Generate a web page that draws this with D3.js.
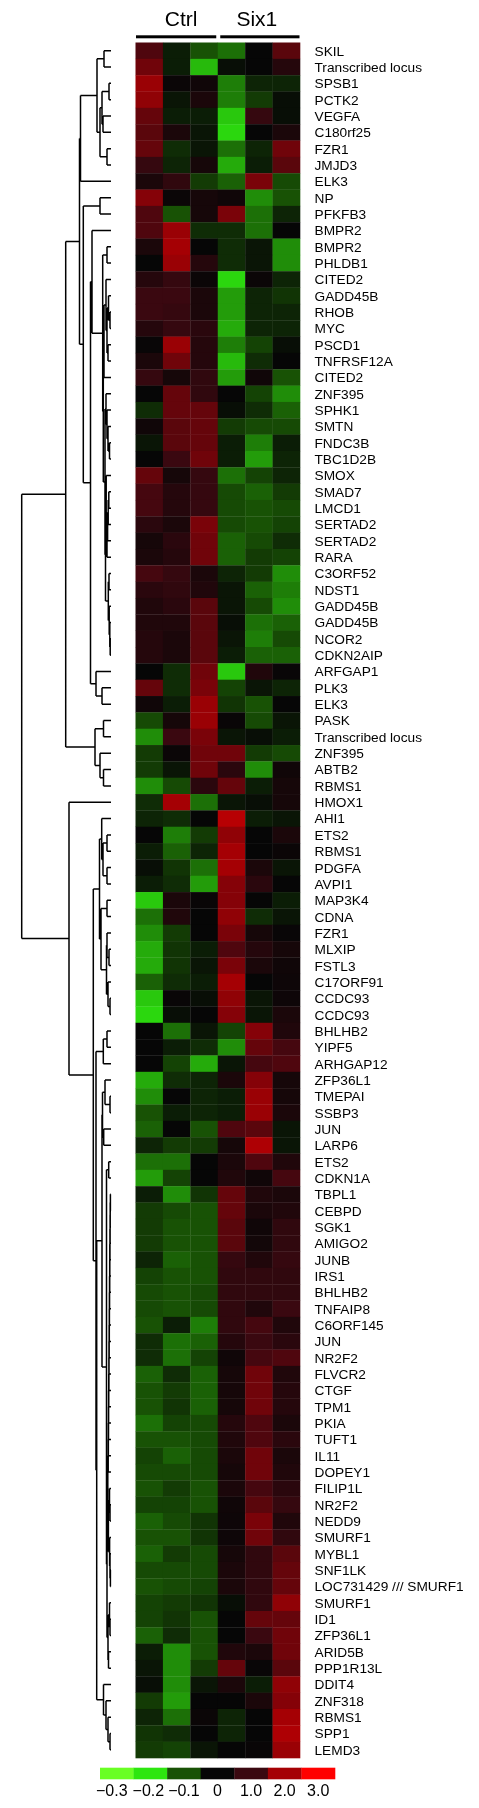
<!DOCTYPE html>
<html>
<head>
<meta charset="utf-8">
<script src="https://cdn.jsdelivr.net/npm/d3@7"></script>
<style>
  html, body { margin: 0; padding: 0; background: #fff; }
  svg { display: block; }
  text { font-family: "Liberation Sans", Arial, sans-serif; fill: #000; }
</style>
</head>
<body>
<div id="vis"></div>
<script>
var genes = ["SKIL","Transcribed locus","SPSB1","PCTK2","VEGFA","C180rf25","FZR1","JMJD3","ELK3","NP",
  "PFKFB3","BMPR2","BMPR2","PHLDB1","CITED2","GADD45B","RHOB","MYC","PSCD1","TNFRSF12A",
  "CITED2","ZNF395","SPHK1","SMTN","FNDC3B","TBC1D2B","SMOX","SMAD7","LMCD1","SERTAD2",
  "SERTAD2","RARA","C3ORF52","NDST1","GADD45B","GADD45B","NCOR2","CDKN2AIP","ARFGAP1","PLK3",
  "ELK3","PASK","Transcribed locus","ZNF395","ABTB2","RBMS1","HMOX1","AHI1","ETS2","RBMS1",
  "PDGFA","AVPI1","MAP3K4","CDNA","FZR1","MLXIP","FSTL3","C17ORF91","CCDC93","CCDC93",
  "BHLHB2","YIPF5","ARHGAP12","ZFP36L1","TMEPAI","SSBP3","JUN","LARP6","ETS2","CDKN1A",
  "TBPL1","CEBPD","SGK1","AMIGO2","JUNB","IRS1","BHLHB2","TNFAIP8","C6ORF145","JUN",
  "NR2F2","FLVCR2","CTGF","TPM1","PKIA","TUFT1","IL11","DOPEY1","FILIP1L","NR2F2",
  "NEDD9","SMURF1","MYBL1","SNF1LK","LOC731429 /// SMURF1","SMURF1","ID1","ZFP36L1","ARID5B","PPP1R13L",
  "DDIT4","ZNF318","RBMS1","SPP1","LEMD3"];

var samples = ["c1","c2","c3","s1","s2","s3"];
var groupNames = ["Ctrl","Six1"];
var groupSamples = [["c1","c3"],["s1","s3"]];

// one row per gene, columns follow samples
var expression = [
  [1.2,-0.03,-0.1,-0.12,0,1.3],
  [1.5,-0.03,-0.17,-0.01,0,0.6],
  [1.9,0.1,0.2,-0.13,-0.04,-0.04],
  [1.8,-0.02,0.4,-0.13,-0.07,-0.01],
  [1.4,-0.03,-0.03,-0.18,0.9,-0.01],
  [1.3,0.4,-0.02,-0.19,0,0.4],
  [1.4,-0.05,-0.02,-0.12,-0.04,1.5],
  [0.9,-0.04,0.3,-0.16,-0.03,1.3],
  [0.4,0.8,-0.07,-0.11,1.6,-0.09],
  [1.7,0.1,0.3,0.2,-0.14,-0.1],
  [1.2,-0.1,0.3,1.6,-0.12,-0.04],
  [1.2,1.9,-0.05,-0.05,-0.12,0],
  [0.4,2,0,-0.05,-0.02,-0.14],
  [0,1.9,0.6,-0.05,-0.02,-0.14],
  [0.6,0.9,0.1,-0.19,0.1,-0.04],
  [1,1,0.4,-0.15,-0.04,-0.06],
  [1,0.9,0.4,-0.15,-0.04,-0.04],
  [0.6,0.9,0.7,-0.16,-0.04,-0.04],
  [0.05,1.9,0.6,-0.13,-0.08,-0.01],
  [0.4,1.5,0.6,-0.17,-0.05,0],
  [0.9,0.3,0.8,-0.15,0.2,-0.1],
  [0,1.4,0.8,0,-0.08,-0.14],
  [-0.05,1.4,1.4,-0.01,-0.05,-0.11],
  [0.2,1.3,1.4,-0.07,-0.09,-0.09],
  [-0.02,1.3,1.4,-0.03,-0.13,-0.03],
  [0,1,1.5,-0.03,-0.15,-0.04],
  [1.4,0.3,0.9,-0.12,-0.08,-0.04],
  [1.1,0.6,0.9,-0.09,-0.11,-0.07],
  [1.1,0.6,0.9,-0.09,-0.1,-0.09],
  [0.7,0.4,1.6,-0.09,-0.1,-0.08],
  [0.3,0.7,1.5,-0.11,-0.09,-0.05],
  [0.4,0.6,1.5,-0.11,-0.07,-0.08],
  [1.1,0.9,0.4,-0.04,-0.07,-0.14],
  [0.7,0.8,0.5,-0.02,-0.11,-0.13],
  [0.5,0.7,1.3,-0.02,-0.09,-0.14],
  [0.5,0.5,1.3,-0.01,-0.12,-0.11],
  [0.6,0.4,1.3,-0.02,-0.13,-0.09],
  [0.6,0.4,1.3,-0.03,-0.11,-0.11],
  [0,-0.05,1.5,-0.18,0.5,0.05],
  [1.4,-0.05,1.6,-0.08,-0.02,-0.04],
  [0.2,-0.03,1.9,-0.06,-0.1,0],
  [-0.09,0.3,1.9,0.05,-0.09,-0.02],
  [-0.14,1,1.6,-0.02,-0.01,-0.03],
  [-0.07,0.1,1.5,1.5,-0.07,-0.09],
  [-0.07,-0.02,1.5,0.7,-0.14,0.2],
  [-0.14,-0.09,0.7,1.4,-0.03,0.3],
  [-0.05,2,-0.12,-0.02,-0.01,0.3],
  [-0.04,-0.05,0,2.2,-0.03,-0.02],
  [0,-0.13,-0.07,1.8,0,0.4],
  [-0.03,-0.11,-0.04,2,0,0.1],
  [-0.01,-0.06,-0.12,2,0.4,-0.02],
  [-0.03,-0.05,-0.15,1.7,0.7,0],
  [-0.18,0.4,0.05,1.7,0,-0.03],
  [-0.12,0.5,0,1.8,-0.05,-0.02],
  [-0.14,-0.07,0,1.6,0.3,0.05],
  [-0.16,-0.06,-0.03,1.2,0.6,0.3],
  [-0.16,-0.06,-0.02,1.6,0.4,0.2],
  [-0.11,-0.05,-0.03,2,0,0.15],
  [-0.18,0.05,-0.01,1.8,-0.02,0.15],
  [-0.19,-0.01,0,1.7,-0.02,0.4],
  [0,-0.12,-0.02,-0.08,1.7,0.5],
  [0,-0.03,-0.05,-0.14,1.4,1.1],
  [0,-0.08,-0.16,-0.02,1.1,1.2],
  [-0.16,-0.05,-0.04,0.4,1.7,0.3],
  [-0.14,0,-0.04,-0.03,1.9,0.3],
  [-0.1,-0.03,-0.04,-0.03,1.9,0.4],
  [-0.11,0,-0.1,1.2,1.3,-0.02],
  [-0.04,-0.07,-0.07,0.3,2.1,-0.02],
  [-0.12,-0.12,0,0.4,1.2,0.5],
  [-0.15,-0.08,0,0.5,0.2,1.1],
  [-0.03,-0.14,-0.06,1.4,0.5,0.4],
  [-0.07,-0.09,-0.1,1.4,0.4,0.5],
  [-0.07,-0.1,-0.1,1.3,0.2,0.8],
  [-0.07,-0.1,-0.1,1.3,0.25,0.8],
  [-0.04,-0.11,-0.1,0.9,0.5,0.9],
  [-0.08,-0.1,-0.1,0.8,0.8,0.8],
  [-0.09,-0.1,-0.09,0.8,0.8,0.8],
  [-0.09,-0.1,-0.09,0.8,0.5,1],
  [-0.1,-0.03,-0.13,0.8,1.1,0.5],
  [-0.05,-0.12,-0.11,0.6,1,0.7],
  [-0.05,-0.12,-0.08,0.2,1.1,1.2],
  [-0.11,-0.05,-0.11,0.3,1.5,0.5],
  [-0.1,-0.07,-0.11,0.3,1.5,0.6],
  [-0.1,-0.06,-0.11,0.3,1.5,0.6],
  [-0.12,-0.08,-0.09,0.6,1.2,0.4],
  [-0.1,-0.1,-0.09,0.5,1.2,0.7],
  [-0.08,-0.11,-0.09,0.4,1.5,0.4],
  [-0.09,-0.09,-0.09,0.3,1.5,0.5],
  [-0.1,-0.07,-0.1,0.4,1.1,0.7],
  [-0.08,-0.08,-0.1,0.2,1.3,0.9],
  [-0.11,-0.09,-0.06,0.15,1.6,0.5],
  [-0.1,-0.1,-0.06,0.15,1.5,0.8],
  [-0.11,-0.07,-0.09,0.3,0.8,1.3],
  [-0.09,-0.09,-0.09,0.4,0.8,1.4],
  [-0.1,-0.09,-0.08,0.4,0.8,1.4],
  [-0.08,-0.07,-0.06,-0.01,0.8,1.8],
  [-0.08,-0.06,-0.1,0,1.4,1.4],
  [-0.11,-0.05,-0.1,0,1,1.5],
  [-0.03,-0.14,-0.1,0.5,0.4,1.5],
  [-0.02,-0.14,-0.07,1.4,0.05,1.3],
  [-0.01,-0.14,-0.02,0.4,-0.03,1.8],
  [-0.07,-0.15,0,0,0.4,1.7],
  [-0.04,-0.12,0.1,-0.04,0,2],
  [-0.06,-0.05,0,-0.04,0,2.1],
  [-0.07,-0.08,-0.02,0,0.05,1.9]
];

var legendValues = [-0.3,-0.2,-0.1,0,1,2,3];
var legendLabels = ["\u22120.3","\u22120.2","\u22120.1","0","1.0","2.0","3.0"];
var legendColors = ["#69ff23","#2de60f","#185205","#060606","#3a0810","#a50004","#ff0000"];

// dendrogram: [merge height, child, child], a plain number is a row in genes (from 1)
var rows71to88 = [2.8,[2.65,[2.5,[2.4,[2.25,[2.1,[2,[1.85,[1.7,[1.6,[1.45,[1.3,[1.2,[1.05,[0.9,[0.8,[0.6,71,72],73],74],75],76],77],78],79],80],81],82],83],84],85],86],87],88];
var treeTop = [45.3,
  [31.5,
    [30.5,
      [14,[7,1,2],[11,[9,[2,3,4],[8,5,6]],[4,7,8]]],
      9],
    [27.7,
      [11,10,11],
      [20.5,
        [19,12,
          [8.3,[4,13,14],
            [7.7,
              [7,[5,15,[4,[2.5,16,[1,17,18]],[3,19,20]]],21],
              [6,
                [5,22,[4,23,[3,24,[1.5,25,26]]]],
                [5.5,
                  [4.8,27,[4,[3.4,[2.8,[2.2,28,29],30],31],32]],
                  [2.7,[2,33,34],[1.8,35,[1.2,36,[0.8,37,38]]]]]]]]],
        [15,39,[9,40,41]]]]],
  [16,[7.5,42,43],[11,44,[7.5,45,46]]]];
var treeBottom = [42,47,
  [17.7,
    [11.5,
      [9.3,48,[8,[4,49,50],[4,51,52]]],
      [10,[4,53,54],[4.5,[4,55,[2,56,57]],[3,58,[1,59,60]]]]],
    [15,
      [7.7,[4,61,62],63],
      [14.3,
        [9,
          [8.5,[6,64,[1,65,66]],[7.3,67,68]],
          [4.5,[2.3,69,70],
            [4,
              [3.2,rows71to88,[2.6,[1.5,89,[1,90,91]],[1.4,92,[1,93,[0.6,94,95]]]]],
              [3,[1.5,96,[1,97,98]],[2.5,99,100]]]]],
        [7.5,101,[5,102,[3,103,[1,104,105]]]]]]]];
var treeRoot = [89.3,treeTop,treeBottom];

function init()
{
  var svg = d3.select("#vis")
    .append("svg")
    .attr("width", 479)
    .attr("height", 1808)
    .style("filter", "blur(0.4px)");

  var rowIds = d3.range(1, genes.length + 1);

  var xScale = d3.scaleBand().domain(samples).range([135.5, 300]);
  var yScale = d3.scaleBand().domain(rowIds).range([42.5, 1758]);
  var colorScale = d3.scaleLinear().domain(legendValues).range(legendColors).clamp(true);
  var treeX = d3.scaleLinear().domain([0, 90]).range([111, 21]);

  // heatmap
  var rows = svg.append("g")
    .selectAll("g")
    .data(expression)
    .enter()
    .append("g")
    .attr("transform", function(d, i) {return "translate(0," + yScale(i + 1) + ")";});

  rows.selectAll("rect")
    .data(function(d) {return d;})
    .enter()
    .append("rect")
    .attr("x", function(d, i) {return xScale(samples[i]);})
    .attr("width", xScale.bandwidth() + 0.3)
    .attr("height", yScale.bandwidth() + 0.3)
    .attr("fill", function(d) {return colorScale(d);});

  // gene names
  svg.append("g")
    .selectAll("text")
    .data(genes)
    .enter()
    .append("text")
    .attr("x", 314.5)
    .attr("y", function(d, i) {return yScale(i + 1) + yScale.bandwidth() / 2;})
    .attr("dy", ".36em")
    .style("font-size", "13.7px")
    .text(function(d) {return d;});

  // group headers
  var groups = svg.append("g");
  groupNames.forEach(function(name, i) {
    var left = xScale(groupSamples[i][0]) + (i ? 2.5 : 0.5);
    var right = xScale(groupSamples[i][1]) + xScale.bandwidth() - (i ? 0.5 : 1.5);
    groups.append("rect")
      .attr("x", left)
      .attr("y", 35.3)
      .attr("width", right - left)
      .attr("height", 3)
      .attr("fill", "#000");
    groups.append("text")
      .attr("x", (left + right) / 2 + (i ? -3 : 5))
      .attr("y", 25.5)
      .attr("text-anchor", "middle")
      .style("font-size", "21px")
      .text(name);
  });

  // dendrogram
  var root = d3.hierarchy(treeRoot, function(d) {return Array.isArray(d) ? d.slice(1) : null;});
  root.eachAfter(function(node) {
    if (node.children) {
      var kids = node.children;
      node.h = node.data[0];
      node.py = (kids[0].py + kids[kids.length - 1].py) / 2;
    } else {
      node.h = 0;
      node.py = yScale(node.data) + yScale.bandwidth() / 2;
    }
  });

  var branchPath = "";
  root.each(function(node) {
    if (!node.children) return;
    var kids = node.children;
    branchPath += "M" + treeX(node.h) + "," + kids[0].py + "V" + kids[kids.length - 1].py;
    kids.forEach(function(kid) {
      branchPath += "M" + treeX(node.h) + "," + kid.py + "H" + treeX(kid.h);
    });
  });

  svg.append("path")
    .attr("d", branchPath)
    .style("fill", "none")
    .style("stroke", "#000")
    .style("stroke-width", "1.5");

  // colour key
  var keyScale = d3.scaleBand().domain(legendLabels).range([100, 335]);
  var keyAxis = d3.axisBottom().scale(keyScale).tickSize(0).tickPadding(5);

  svg.append("g")
    .selectAll("rect")
    .data(legendLabels)
    .enter()
    .append("rect")
    .attr("x", function(d) {return keyScale(d);})
    .attr("y", 1767.7)
    .attr("width", keyScale.bandwidth() + 0.3)
    .attr("height", 11.6)
    .attr("fill", function(d, i) {return legendColors[i];});

  var keyTicks = svg.append("g")
    .attr("transform", "translate(0,1779.3)")
    .call(keyAxis);
  keyTicks.select(".domain").remove();
  keyTicks.selectAll("text")
    .attr("dx", function(d, i) {return i === 0 ? -5 : (i === 1 ? -2 : 0);})
    .style("font-family", "\"Liberation Sans\", Arial, sans-serif")
    .style("font-size", "16px");
}

window.onload = init();
</script>
</body>
</html>
